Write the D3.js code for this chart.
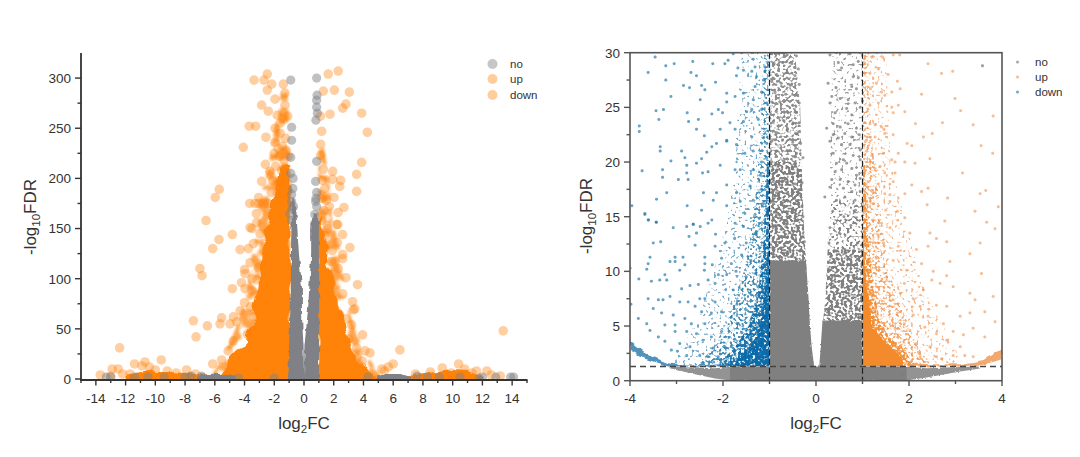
<!DOCTYPE html>
<html><head><meta charset="utf-8">
<script src="https://cdn.jsdelivr.net/npm/d3@7/dist/d3.min.js"></script>
<style>html,body{margin:0;background:#fff}svg{display:block}text{font-family:"Liberation Sans",Arial,sans-serif;fill:#333}</style>
</head><body><svg id="c" width="1080" height="457"></svg>
<script>
const legendLabels=["no","up","down"];
const xLabelA="log", xLabelB="2", xLabelC="FC", yLabelA="-log", yLabelB="10", yLabelC="FDR";
const leftXTicks=d3.range(-14,15,2), leftYTicks=[0,50,100,150,200,250,300];
const rightXTicks=[-4,-2,0,2,4], rightYTicks=[0,5,10,15,20,25,30];

// LEFT PANEL: mass outlines [y, xFrom, xTo]
const leftOrangeNeg=[[-3,-6.3,-.9],[0,-6.3,-.9],[5,-5.7,-.9],[12,-5.3,-.9],[20,-5,-.9],[26,-4.76,-.9],[32,-4.3,-.9],[39,-3.85,-.9],[50,-3.7,-.9],[59,-3.2,-.9],[75,-3.4,-.9],[92,-3,-.9],[125,-2.85,-.9],[158,-2.3,-.9],[175,-2.2,-.9],[190,-2,-.95],[205,-1.6,-1],[212,-1.3,-1]];
const leftOrangePos=[[-3,.9,5],[0,.9,5],[4,.9,4.7],[12,.9,4.3],[20,.9,3.5],[26,.9,3.3],[46,.9,2.87],[66,.9,2.42],[92,.9,2.08],[115,.9,1.55],[132,.9,1.6],[150,.9,1.2],[160,.9,1.05]];
const leftHaloNeg=[[0,-6.4,-.9],[20,-5.5,-.9],[50,-4.6,-.9],[75,-4.1,-.9],[100,-3.7,-.9],[125,-3.5,-.9],[150,-3.1,-.9],[175,-3.1,-.9],[200,-2.6,-.9],[230,-2.2,-1],[260,-1.9,-1],[290,-1.5,-1.15]];
const leftHaloPos=[[0,.9,5.3],[20,.9,4.4],[46,.9,3.5],[66,.9,3.1],[92,.9,2.8],[115,.9,2.4],[132,.9,2.4],[160,.9,1.9],[200,.95,1.7],[230,1,1.35]];
const leftGrayNeg=[[-3,-1.05,0],[0,-1.05,0],[34,-1,-.03],[50,-.95,-.1],[70,-.92,-.14],[92,-.88,-.14],[125,-.88,-.34],[150,-.85,-.45],[165,-.82,-.5],[180,-.8,-.58]];
const leftGrayPos=[[-3,0,1],[0,0,1],[34,.03,1.02],[50,.15,1.02],[70,.27,1.02],[92,.36,1.02],[125,.48,1],[150,.48,1],[165,.58,.95]];
// wings along the baseline [x, y0, y1]
const leftWingNeg=[[-12,-3,3],[-11,-3,7],[-10.5,-3,9],[-10,-3,7],[-9,-3,7],[-8,-3,6],[-7,-3,5],[-6,-3,3]];
const leftWingPos=[[7,-3,4],[8,-3,6],[9,-3,7],[10,-3,9],[11,-3,8],[11.5,-3,5],[12,-3,2]];
const leftBaseGrayNeg=[[-7.2,-3,2],[-6.5,-3,5],[-5.5,-3,5],[-4.6,-3,2]];
const leftBaseGrayPos=[[4.9,-3,2],[5.5,-3,5],[6.5,-3,5],[7.2,-3,2]];

const leftOrangePts=[[-3.36,298],[-2.47,304],[-2.69,298],[-2.17,294],[-2.47,288],[-1.39,294],[-1.28,285],[-1.95,279],[-2.85,273],[-2.4,267],[-1.28,273],[-1.8,263],[-1.45,260],[-1.6,255],[-1.1,262],[-3.68,252],[-3.25,252],[-2.56,241],[-4.08,231],[-1.95,250],[-1.6,245],[-1.25,240],[-1.95,236],[-1.75,230],[-1.45,232],[-1.2,228],[-2,225],[-1.65,222],[-1.35,218],[-2.3,207],[-2.6,214],[-1.9,212],[-1.5,208],[-1.2,205],[-1.05,222],[-2.85,197],[-2.1,198],[-1.7,197],[-1.4,195],[-1.1,194],[-3.05,181],[-2.2,186],[-1.8,185],[-1.3,185],[-3.65,175],[-3.3,175],[-3.05,175],[-2.7,175],[-2.45,175],[-3.2,165],[-3.5,150],[-5.7,189],[-5.97,181],[-6.59,158],
[2.3,307],[1.63,304],[1.3,287],[2.04,288],[3.05,286],[2.82,274],[2.6,270],[3.88,265],[4.26,246],[1.75,264],[1.1,262],[1.19,247],[1.12,234],[1.12,223],[3.88,216],[3.54,204],[3.54,187],[1.93,207],[2.47,198],[2.4,192],[1.93,199],[1.3,209],[1.25,198],[1.4,190],[1.2,180],[1.5,178],[2.02,181],[1.7,172],[2.69,171],[2.29,166],[1.35,168],[1.2,158],[2.2,154],[1.6,150],[1.4,143],
[-4.82,144],[-5.72,139],[-6.14,130],[-7,110],[-6.86,103],[-4.3,129],[-3.74,130],[-4,109],[-3.97,105],[-4.82,90],[-3.97,90],[-3.5,88],[-4,76],[-4.3,68],[-4.75,62],[-4.53,57],[-5.54,61],[-5.65,55],[-6.5,53],[-7.44,58],[-7.26,42],[-4.98,55],[-3.8,45],[-4.75,38],[-5.1,28],[-5.54,19],[-6.14,15],[-3.63,151],[-3.18,156],[-2.96,145],[-3.63,116],[-3.07,111],[-3.18,99],[-3.07,80],[-3.41,62],[-4.2,96],[-3.4,135],[-3.5,100],[-3.6,72],
[2.27,154],[2.6,144],[2.24,136],[3.09,131],[2.6,124],[2.6,120],[1.85,117],[2.82,101],[3.6,94],[3.27,77],[3.32,69],[3.42,70],[2.4,64],[3.2,54],[3.94,44],[3.54,31],[4.1,28],[4.44,26],[5.23,10],[6,15],[6.45,29],[5.67,12],[5.4,8],[1.57,153],[1.9,128],[2.3,110],[2.6,85],[2.85,60],[3,40],[3.6,22],[3.9,18],
[-12.4,31],[-13.7,4],[-12.9,10],[-12.5,10],[-11.4,15],[-10.7,17],[-10.4,12],[-9.6,19],[-10.9,13],[-11.7,5],[-10,9],[-9.2,8],[-8.6,6],[-7.9,9],[-7.3,5],[-12.2,5],[-13,3],[13.4,48],[10.4,15],[9.3,11],[10.8,10],[11.6,8],[12.3,8],[11.3,6],[8.5,7],[9.9,6],[13.2,3],[12.6,4],[7.5,5]];
const leftGrayPts=[[-.89,298],[-.83,251],[-.83,238],[-.89,221],[-.89,205],[-.73,200],[-.83,184],[-.83,177],[-.7,172],[-.95,165],[-.83,158],[-.75,190],[-.8,170],[.85,300],[.85,278],[.85,271],[.8,258],[.85,217],[.78,197],[.85,186],[.78,177],[.85,172],[.72,164],[.72,155],[.9,265],[.88,283],[.8,180],
[-13.3,2],[-13,2],[-11.4,2],[-10.5,2],[-9.4,2],[-8,2],[-7.6,3],[-6.9,3],[13.9,2],[14.1,2],[12.9,2],[12,2],[11.8,1],[10.5,2],[9.1,2],[8.3,2],[7.6,3],[4.3,2],[-2,1],[-4.4,1]];

// RIGHT PANEL: density zones [y, xFrom, xTo]
const grayNegDense=[[0,-.01,-1],[.4,-.02,-1],[1.3,-.04,-1],[3,-.09,-1],[5,-.13,-1],[7.5,-.16,-1],[10,-.2,-1],[11,-.22,-1]];
const grayNegMid=[[10,-.2,-1],[15,-.27,-1],[20,-.31,-1]];
const grayNegTop=[[20,-.31,-1],[25,-.34,-1],[30,-.45,-1]];
const grayPosDense=[[0,.01,1],[.4,.03,1],[1.3,.07,1],[3,.1,1],[4.3,.12,1],[5.5,.14,1]];
const grayPosMid=[[5.4,.15,1],[7.4,.2,1],[12,.25,1]];
const grayPosHigh=[[12,.25,1],[16.5,.33,1]];
const grayPosTop=[[16.5,.33,1],[20,.3,1],[25,.33,1],[30,.35,1]];
const blueT0=[[1.3,-3.1,-1],[3,-2.9,-1],[6,-2.5,-1],[10,-2.2,-1],[15,-1.9,-1],[20,-1.75,-1],[30,-1.6,-1]];
const blueT1=[[1.3,-2.6,-1],[3,-2.2,-1],[6,-1.85,-1],[10,-1.55,-1],[15,-1.35,-1],[22,-1.2,-1],[30,-1.12,-1]];
const blueT2=[[1.3,-2.1,-1],[2,-2,-1],[3,-1.75,-1],[5,-1.45,-1],[8,-1.25,-1],[13,-1.12,-1],[20,-1.05,-1]];
const blueT3=[[1.3,-1.75,-1],[2,-1.7,-1],[3,-1.45,-1],[4,-1.3,-1],[6,-1.15,-1],[10,-1.07,-1],[13,-1.02,-1]];
const orangeT0=[[1.3,3.1,1],[3,3,1],[6,2.6,1],[10,2.2,1],[15,1.9,1],[20,1.6,1],[30,1.5,1]];
const orangeT1=[[1.3,2.5,1],[3,2.2,1],[6,1.9,1],[10,1.55,1],[15,1.4,1],[22,1.2,1],[30,1.12,1]];
const orangeT2=[[1.3,2.1,1],[3,1.9,1],[4,1.55,1],[6,1.35,1],[8,1.25,1],[13,1.12,1],[20,1.05,1]];
const orangeT3=[[1.3,1.9,1],[2,1.85,1],[3,1.65,1],[3.7,1.45,1],[5,1.2,1],[9,1.08,1],[13,1.02,1]];
// bands [x, y0, y1]
const grayBottom=[[-1.85,0,1.3],[1.95,0,1.3]];
const grayArcNeg=[[-3.15,1.15,1.3],[-2.68,.65,1.2],[-2.17,.2,1.15],[-1.8,0,1.3]];
const grayArcPos=[[1.9,0,1.3],[2.38,.3,1.15],[3.1,.85,1.25],[3.5,1.1,1.3]];
const blueArc=[[-4,2.8,3.6],[-3.68,2,2.5],[-3.18,1.3,1.6],[-2.8,1.3,1.4],[-2.2,1.3,1.45],[-1.9,1.3,1.6]];
const orangeArc=[[2,1.3,1.55],[2.6,1.3,1.5],[3.1,1.3,1.5],[3.6,1.45,1.9],[3.95,1.9,2.8],[4,2,2.85]];
const fcCut=[-1,1], fdrCut=[1.3];

const bluePts=[[-3.46,29.6],[-3.61,28.2],[-3.23,28.8],[-3.05,29],[-3.23,27.5],[-3.12,26],[-3.44,24.7],[-3.28,24.8],[-3.38,23.9],[-3.8,23.3],[-3.8,22.8],[-3.35,21.4],[-3.35,21],[-3.12,20.1],[-3.74,19.2],[-3.3,19.3],[-3.3,18.6],[-3.21,17.2],[-3.43,16.6],[-3.96,16],[-3.68,15.3],[-3.6,14.7],[-3.44,14.5],[-3.07,14],
[-2.65,29.2],[-2.22,29],[-2.69,28.2],[-2.57,27.9],[-2.16,27.3],[-2.85,27],[-2.72,26.8],[-2.46,27],[-2.39,26.6],[-2.49,25.7],[-2.77,24.5],[-2.24,24.4],[-2.1,24.8],[-2.01,24.5],[-2.74,23.7],[-2.53,23.9],[-2.57,23],[-2.06,23],[-2.4,22.4],[-2.14,21.7],[-1.92,21.9],[-2.24,21.4],[-2.89,21],[-2.82,20.4],[-2.78,19.7],[-2.57,19.9],[-2.35,20.9],[-2.46,20.3],[-2.06,19.7],[-2.96,18.4],[-2.75,18.4],[-2.78,19],[-2.44,19],[-2.32,19.1],[-2.42,17.2],[-2.14,17.2],[-2.21,16.5],[-2.77,16],[-2.46,15.6],[-2.24,14.7],[-2.32,14.4],[-2.64,14.3],[-2.78,14.1],[-2.49,14.1],
[-1.96,29],[-1.78,29.9],[-1.6,30],[-1.89,29.3],[-1.68,28.6],[-1.56,28.4],[-1.71,27.9],[-1.92,26.3],[-1.92,25.5],[-1.74,26],[-1.56,26.3],[-1.35,29.4],[-1.31,28.7],[-1.38,28.3],[-1.28,27.8],[-1.1,28.7],[-1.1,28.3],[-1.13,27.5],[-1.31,26.9],[-1.17,26.4],[-1.35,25.7],[-1.49,24.6],[-1.38,24.8],[-1.17,24.8],[-1.24,23.9],[-1.06,25.4],[-1.85,23.6],[-1.74,23],[-1.56,23.7],[-1.38,22.3],[-1.13,22.2],[-1.06,21.7],[-1.92,22],[-1.71,21.6],[-1.53,20.8],[-1.35,21],[-1.06,20.4],[-1.17,20],[-1.74,19.3],[-1.63,19.3],[-1.35,19.3],[-1.2,18.8],[-1.03,19.3],[-1.92,17.9],[-1.71,17.2],[-1.42,17.8],[-1.17,17.5],[-1.06,17.8],[-1.63,16.4],[-1.35,16.5],[-1.13,16.2],[-1.92,16],[-1.53,15.3],[-1.31,15.2],[-1.1,14.7],[-1.74,14.4],[-1.56,14.1],
[-3.68,15.2],[-3.61,14.7],[-3.43,14.5],[-2.64,14.3],[-2.73,13.2],[-2.57,13.5],[-2.16,13.4],[-3.5,12.6],[-3.34,12.7],[-4,10.3],[-3.64,10.2],[-3.57,11.3],[-3.61,10.7],[-3.14,10.9],[-3.03,11.3],[-3.03,10.9],[-2.86,11.3],[-2.82,10.6],[-2.93,10.1],[-3.81,9.3],[-3.54,9.1],[-3.36,9.2],[-3.21,9.2],[-3.25,9.7],[-2.89,8.4],[-2.71,8.7],[-2.53,8.8],[-2.39,10.7],[-2.39,11.3],[-2.4,10.1],[-2.17,12.3],[-2.6,12.4],[-1.96,12.6],[-2.23,10.6],[-2.03,11.2],[-1.82,10.7],[-2.1,9.7],[-1.92,9.7],[-2.32,9.2],[-2.17,8.9],[-1.78,8.3],[-3.61,7.5],[-3.39,7.4],[-3.29,7.4],[-3.14,7.7],[-3.98,7],[-3.5,6.6],[-2.93,7.2],[-2.75,7.2],[-2.5,7.5],[-2.39,7.5],[-2.17,7.2],[-3.32,6.2],[-3.07,6],[-2.82,5.7],[-2.6,6.8],[-2.46,6.3],[-2.25,6.2],[-2.03,6.3],[-3.82,5.7],[-3.64,5.2],[-3.25,5.1],[-3.03,5.1],[-2.68,5.2],[-2.39,5.2],[-3.57,4.6],[-3.39,4],[-3.25,3.6],[-3.03,4.5],[-2.78,4.5],[-2.57,4.3],[-2.93,3.4],[-2.71,3.1],[-2.43,3.7],[-2.25,4],[-2.03,4.5],[-1.82,5.8],[-1.67,5.2],[-1.96,3.1],[-2.21,3],[-3.11,2.8],[-2.98,2.7],[-2.78,2.3],[-2.5,2.3],[-2.32,2.2],[-2.1,2.2],[-1.82,3.1],
[-1.75,13],[-1.5,12.6],[-1.3,13.5],[-1.6,11.5],[-1.4,11],[-1.22,12.2],[-1.72,10],[-1.5,9.5],[-1.3,9.8],[-1.65,8.5],[-1.42,8],[-1.25,8.6],[-1.7,7],[-1.5,6.5],[-1.3,7],[-1.6,4.4],[-1.75,3.8],[-1.5,4.6],[-2.05,1.9],[-2.2,1.7],[-2.45,1.6]];

const orangePts=[[2.41,29],[2.7,28.1],[2.94,28.3],[2.27,26.2],[2.99,25.8],[3.11,24.7],[3.81,24.2],[2.72,23.6],[3.38,23.4],[2.14,23.5],[2.5,22.6],[2.31,22.3],[1.96,21.7],[2.06,21.5],[3.55,21.5],[3.8,20.8],[2.45,20.3],[2.13,19.9],[1.91,20],[3.15,19],[2.41,17.6],[2.27,17.3],[2.06,17.9],[1.91,17.1],[3.65,17.4],[3.53,17.1],[2.83,16.7],[3.92,15.9],[2.39,16.1],
[1.05,29],[1.2,29.6],[1.43,29.6],[1.66,29.8],[1.8,29.8],[1.16,28.1],[1.34,28.5],[1.55,28],[1.75,27.4],[1.3,27.2],[1.17,26.7],[1.41,26.4],[1.63,26.4],[1.81,26.7],[1.48,26.1],[1.16,25.2],[1.34,25.4],[1.63,25],[1.77,25.2],[1.66,24.5],[1.91,24.6],[1.16,23.5],[1.27,23.4],[1.41,23.2],[1.09,22],[1.27,22.3],[1.48,22.6],[1.46,23],[1.66,22.5],[1.09,21],[1.2,20.6],[1.45,20.8],[1.63,20.2],[1.7,20],[1.77,20.8],[1.09,19.6],[1.27,19.4],[1.38,19.6],[1.48,19],[1.7,19],[1.12,18.2],[1.34,18],[1.66,18.2],[1.2,17.4],[1.48,17.1],[1.59,17],[1.09,16.4],[1.23,16.2],[1.59,16.4],
[3.42,15.5],[2.77,14.6],[3.67,14.5],[3.85,13.9],[2.45,13.5],[2.59,13],[2.81,12.7],[3.53,12.6],[3.31,11.6],[3.56,9.8],[2.52,10],[2.88,10.9],[2.41,12.3],[2.16,12],[2.02,13.5],[1.91,14.9],[1.95,10.1],[2.27,10.7],[2.49,9.2],[2.67,8.9],[2.81,9.6],[2.95,8.6],[3.31,8],[3.42,7.4],[3.81,7.7],[3.63,6.3],[3.85,5.4],[3.63,4],[3.38,4.8],[3.1,5.9],[3.31,6.2],[2.81,6.8],[2.59,6.9],[2.31,8.3],[2.09,7.5],[2.24,6.8],[2.09,6],[2.41,5.9],[2.74,5.2],[2.95,4.5],[3.17,4.2],[2.59,4.3],[2.34,4.9],[2.02,4.6],[2.16,3.4],[2.45,3.1],[2.81,3.7],[3.1,3.1],[3.38,2.2],[2.95,2.3],[2.59,2.2],[2.24,2.2],[1.88,2.2],[1.66,7.4],[1.81,8],[1.52,9.5],[1.66,11],[1.45,12.6],[1.59,14],[1.77,12.3],[1.3,11.2],[1.23,14.7],[1.34,13.2],[1.12,12.3],[1.41,14.4],[1.75,15.5],[1.5,15.6],[1.9,8.9],[1.75,6.2],[1.9,5.2],[1.7,4.8],[2.2,2.6],[2.7,2],[3.2,2.3]];

const grayPts=[[.3,29.8],[.44,30],[.73,29.9],[.95,30],[.48,29.1],[.55,28.6],[.8,28.9],[.91,29.2],[.8,27.8],[.91,27.7],[.26,27.2],[.43,26.8],[.77,26.9],[.87,26.7],[.34,26],[.52,25.8],[.69,25.7],[.84,25.4],[.95,25],[.3,25.4],[.66,24.9],[.77,24.3],[.41,24.5],[.37,23.5],[.23,23.1],[.52,23.2],[.69,23.5],[.87,23.1],[.37,22.5],[.3,21.9],[.48,22.2],[.62,22.6],[.77,22.3],[.93,22.5],[.55,21.6],[.73,21.6],[.95,21.1],[.37,20.8],[.59,20.2],[.8,20.6],[.44,19.9],[.66,19.9],[.95,20.2],[.41,19.1],[.55,19.3],[.77,19.4],[.87,18.8],[.34,18.4],[.52,18.4],[.69,18.2],[.84,17.9],[.95,18.5],[.3,17.7],[.59,17.6],[.77,17.3],[.19,16.8],[.44,16.5],[.62,16.8],[.84,16.5],[.95,17.3],[.36,15.5],[.6,15],[.85,15.6],[.3,14],[.5,13.5],[.75,14.2],[.28,12.6],[.62,12],[.9,12.6],[3.58,28.8],[1.85,.55],
[-.95,29.9],[-.8,29.9],[-.62,29.8],[-.42,29.7],[-.9,29],[-.72,29.1],[-.52,29],[-.38,28.5],[-.85,28],[-.62,28.2],[-.45,27.9],[-.95,27.4],[-.75,27.2],[-.55,27],[-.36,27.1],[-.88,26.4],[-.65,26.2],[-.42,26.2],[-.95,25.5],[-.78,25.5],[-.5,25.2],[-.36,25.4],[-.85,24.6],[-.6,24.5],[-.42,24.5],[-.92,23.7],[-.7,23.8],[-.5,23.5],[-.36,23.6],[-.85,22.7],[-.62,22.9],[-.42,22.6],[-.95,21.9],[-.72,22],[-.5,21.8],[-.33,21.7],[-.85,21],[-.6,21],[-.42,20.8],[-.28,20.4],[-.95,20],[-.7,20.1],[-.45,19.9],[-.85,19.1],[-.55,19],[-.33,19.2],[-.92,18.2],[-.72,18.2],[-.45,18],[-.3,18.1],[-.85,17.2],[-.6,17.1],[-.38,17],[-.92,16.2],[-.7,16],[-.45,16.2],[-.3,16],[-.85,15.2],[-.55,15],[-.28,15],[-.92,14],[-.65,14.1],[-.38,14],[-.8,13],[-.5,13],[-.25,12.7],[-.9,12],[-.6,11.8],[-.32,12]];

const W=1080,H=457,svg=d3.select("#c");
svg.append("rect").attr("width",W).attr("height",H).attr("fill","#fff");
const defs=svg.append("defs");
const cOrange="#ff8209",cGrayL="#7f8186";

function fbase(id){
  return defs.append("filter").attr("id",id).attr("filterUnits","userSpaceOnUse")
    .attr("x",0).attr("y",0).attr("width",W).attr("height",H).attr("color-interpolation-filters","sRGB");
}
// grain texture standing in for overplotted points
function grain(id,freq,t,seed,blur){
  const f=fbase(id),k=9;
  f.append("feTurbulence").attr("type","fractalNoise").attr("baseFrequency",freq).attr("numOctaves",1).attr("seed",seed).attr("result","n");
  f.append("feColorMatrix").attr("in","n").attr("type","matrix")
    .attr("values",`0 0 0 0 0  0 0 0 0 0  0 0 0 0 0  ${k} 0 0 0 ${-k*t}`).attr("result","m");
  f.append("feComposite").attr("in","SourceGraphic").attr("in2","m").attr("operator","in").attr("result","c");
  f.append("feGaussianBlur").attr("in","c").attr("stdDeviation",blur);
}
// lumpy outline of a solid mass
function lumps(id,freq,scale,seed){
  const f=fbase(id);
  f.append("feTurbulence").attr("type","fractalNoise").attr("baseFrequency",freq).attr("numOctaves",1).attr("seed",seed).attr("result","n");
  f.append("feDisplacementMap").attr("in","SourceGraphic").attr("in2","n").attr("scale",scale).attr("xChannelSelector","R").attr("yChannelSelector","G").attr("result","d");
  f.append("feGaussianBlur").attr("in","d").attr("stdDeviation",.5);
}
const gf=.36;
grain("g18",gf,.59,3,.45);grain("g30",gf,.55,5,.45);grain("g40",gf,.52,7,.45);grain("g55",gf,.48,11,.45);grain("g70",gf,.43,13,.45);grain("g85",gf,.38,19,.45);
grain("blob",.1,.44,17,.8);
lumps("lumpBig",.08,14,2);lumps("lumpSmall",.15,5,4);lumps("lumpFine",.4,3,6);

const clip=(id,x,y,w,h)=>defs.append("clipPath").attr("id",id).append("rect").attr("x",x).attr("y",y).attr("width",w).attr("height",h);

// ---------- left panel scales
const x1=d3.scaleLinear().domain([-15,15]).range([81,527]);
const y1=d3.scaleLinear().domain([0,325]).range([379,53]);
clip("cpL",81,40,446,340);
const g1=svg.append("g").attr("clip-path","url(#cpL)");
const rowArea=(xs,ys)=>d3.area().y(d=>ys(d[0])).x0(d=>xs(d[1])).x1(d=>xs(d[2]));
const colArea=(xs,ys)=>d3.area().x(d=>xs(d[0])).y0(d=>ys(d[1])).y1(d=>ys(d[2]));
const rowL=rowArea(x1,y1),colL=colArea(x1,y1);

[leftHaloNeg,leftHaloPos].forEach(r=>g1.append("g").attr("opacity",.72).append("path").attr("d",rowL(r)).attr("fill",cOrange).attr("filter","url(#blob)"));
[leftWingNeg,leftWingPos].forEach(r=>g1.append("path").attr("d",colL(r)).attr("fill",cOrange).attr("filter","url(#lumpSmall)"));
[leftOrangeNeg,leftOrangePos].forEach(r=>g1.append("path").attr("d",rowL(r)).attr("fill",cOrange).attr("filter","url(#lumpBig)"));
g1.append("g").selectAll("circle").data(leftOrangePts).join("circle")
  .attr("cx",d=>x1(d[0])).attr("cy",d=>y1(d[1])).attr("r",4.8).attr("fill",cOrange).attr("opacity",.38);
[leftBaseGrayNeg,leftBaseGrayPos].forEach(r=>g1.append("path").attr("d",colL(r)).attr("fill",cGrayL).attr("filter","url(#lumpSmall)"));
[leftGrayNeg,leftGrayPos].forEach(r=>g1.append("path").attr("d",rowL(r)).attr("fill",cGrayL).attr("filter","url(#lumpSmall)"));
g1.append("g").selectAll("circle").data(leftGrayPts).join("circle")
  .attr("cx",d=>x1(d[0])).attr("cy",d=>y1(d[1])).attr("r",4.6).attr("fill",cGrayL).attr("opacity",.5);

function mainTicks(g,orient,vals,scale,pos,len){
  g.selectAll(null).data(vals).join("line").each(function(v){
    const s=d3.select(this);
    if(orient==="b") s.attr("x1",scale(v)).attr("x2",scale(v)).attr("y1",pos).attr("y2",pos+len);
    else s.attr("y1",scale(v)).attr("y2",scale(v)).attr("x1",pos).attr("x2",pos-len);
  }).attr("stroke",g.attr("data-c")).attr("stroke-width",1.4);
}
function labels(g,orient,vals,scale,pos,fs){
  g.selectAll(null).data(vals).join("text").text(d=>d).attr("font-size",fs)
   .attr("text-anchor",orient==="b"?"middle":"end")
   .attr("x",d=>orient==="b"?scale(d):pos).attr("y",d=>orient==="b"?pos:scale(d)+fs*.36);
}
// left axes
const a1=svg.append("g").attr("data-c","#333");
a1.append("line").attr("x1",81).attr("x2",81).attr("y1",y1(325)).attr("y2",381).attr("stroke","#333").attr("stroke-width",1.8);
a1.append("line").attr("x1",80).attr("x2",x1(15)+.5).attr("y1",380).attr("y2",380).attr("stroke","#333").attr("stroke-width",1.8);
mainTicks(a1,"l",leftYTicks,y1,81,6);
mainTicks(a1,"l",d3.range(25,325,50),y1,81,3.5);
mainTicks(a1,"b",leftXTicks,x1,380,5.5);
mainTicks(a1,"b",d3.range(-15,16,2),x1,380,3);
labels(a1,"l",leftYTicks,y1,71,13.5);
labels(a1,"b",leftXTicks,x1,403,13.5);

// ---------- right panel scales
const x2=d3.scaleLinear().domain([-4,4]).range([630,1002]);
const y2=d3.scaleLinear().domain([0,30]).range([380.7,52.7]);
clip("cpR",630,52.7,372,328);
clip("cpBlue",630,52.7,x2(-1)-630,y2(1.3)-52.7);
clip("cpOrange",x2(1),52.7,1002-x2(1),y2(1.3)-52.7);
clip("cpGray",x2(-1),52.7,x2(1)-x2(-1),328);
const g2=svg.append("g").attr("clip-path","url(#cpR)");
const rowR=rowArea(x2,y2),colR=colArea(x2,y2);
const cGray="#808080",cBlue="#0b6aa8",cOr="#f38b2c";
const put=(host,r,fn,c,flt,o)=>host.append("g").attr("opacity",o==null?1:o).append("path").attr("d",fn(r)).attr("fill",c).attr("filter",flt?`url(#${flt})`:null);
const gBlue=g2.append("g").attr("clip-path","url(#cpBlue)");
const gOr=g2.append("g").attr("clip-path","url(#cpOrange)");
const gGray=g2.append("g").attr("clip-path","url(#cpGray)");
put(gBlue,blueT0,rowR,"#3f87b5","g18",.75);
put(gBlue,blueT1,rowR,"#2a7cab","g40",.85);
put(gBlue,blueT2,rowR,cBlue,"g70",.9);
put(gBlue,blueT3,rowR,cBlue,"g85",1);
put(gOr,orangeT0,rowR,"#ef9a5c","g18",.7);
put(gOr,orangeT1,rowR,"#ef9350","g40",.8);
put(gOr,orangeT2,rowR,cOr,"g70",.9);
put(gOr,orangeT3,rowR,cOr,"lumpFine",1);
put(g2,blueArc,colR,"#3f87b5","lumpSmall",.9);
put(g2,orangeArc,colR,"#f0a060","lumpSmall",.9);
put(g2,grayArcNeg,colR,cGray,"lumpFine",.85);
put(g2,grayArcPos,colR,cGray,"lumpFine",.85);
put(g2,grayBottom,colR,cGray,"lumpFine",1);
put(gGray,grayNegTop,rowR,"#8a8a8a","g55",.95);
put(gGray,grayNegMid,rowR,cGray,"g70",1);
put(gGray,grayNegDense,rowR,cGray,"lumpFine",1);
put(gGray,grayPosTop,rowR,"#8a8a8a","g18",.85);
put(gGray,grayPosHigh,rowR,cGray,"g40",.95);
put(gGray,grayPosMid,rowR,cGray,"g70",1);
put(gGray,grayPosDense,rowR,cGray,"lumpFine",1);
const dots=(data,c,o)=>g2.append("g").selectAll("rect").data(data).join("rect")
  .attr("x",d=>x2(d[0])-1.5).attr("y",d=>y2(d[1])-1.5).attr("width",3).attr("height",3).attr("rx",1.4)
  .attr("fill",c).attr("opacity",o);
dots(bluePts,"#2a7cab",.7);
dots(orangePts,"#ef9350",.6);
dots(grayPts,"#7c7c7c",.75);

// right cut lines
const a2=svg.append("g").attr("data-c","#555");
fcCut.forEach(v=>a2.append("line").attr("x1",x2(v)).attr("x2",x2(v)).attr("y1",y2(30)).attr("y2",y2(0))
  .attr("stroke","#222").attr("stroke-width",1.2).attr("stroke-dasharray","6 3"));
fdrCut.forEach(v=>a2.append("line").attr("x1",x2(-4)).attr("x2",x2(4)).attr("y1",y2(v)).attr("y2",y2(v))
  .attr("stroke","#444").attr("stroke-width",1.3).attr("stroke-dasharray","6 4"));
a2.append("rect").attr("x",630).attr("y",52.7).attr("width",372).attr("height",328).attr("fill","none").attr("stroke","#555").attr("stroke-width",1.6);
mainTicks(a2,"l",rightYTicks,y2,630,6);
mainTicks(a2,"l",[2.5,7.5,12.5,17.5,22.5,27.5],y2,630,3.5);
mainTicks(a2,"b",rightXTicks,x2,381,5);
mainTicks(a2,"b",[-3,-1,1,3],x2,381,3);
labels(a2,"l",rightYTicks,y2,620,13.5);
labels(a2,"b",rightXTicks,x2,403,13.5);

// titles
function title(x,y,rot,a,b,c){
  const t=svg.append("text").attr("font-size",17).attr("text-anchor","middle")
    .attr("transform",`translate(${x},${y})`+(rot?" rotate(-90)":""));
  t.append("tspan").text(a);
  t.append("tspan").text(b).attr("font-size",11.5).attr("dy",4);
  t.append("tspan").text(c).attr("dy",-4);
}
title(304,429,false,xLabelA,xLabelB,xLabelC);
title(816,429,false,xLabelA,xLabelB,xLabelC);
title(36,217,true,yLabelA,yLabelB,yLabelC);
title(592,216,true,yLabelA,yLabelB,yLabelC);

// legends
const leg1=[cGrayL,cOrange,cOrange], leg1y=[64,79,95];
svg.append("g").selectAll("circle").data(legendLabels).join("circle")
  .attr("cx",492.5).attr("cy",(d,i)=>leg1y[i]).attr("r",5).attr("fill",(d,i)=>leg1[i]).attr("opacity",(d,i)=>i?.4:.45);
svg.append("g").selectAll("text").data(legendLabels).join("text").text(d=>d)
  .attr("x",510).attr("y",(d,i)=>leg1y[i]+4).attr("font-size",11.5);
const leg2=["#999","#eab288","#5a93b5"], leg2y=[62,77,92];
svg.append("g").selectAll("circle").data(legendLabels).join("circle")
  .attr("cx",1017.5).attr("cy",(d,i)=>leg2y[i]).attr("r",1.6).attr("fill",(d,i)=>leg2[i]).attr("opacity",.8);
svg.append("g").selectAll("text").data(legendLabels).join("text").text(d=>d)
  .attr("x",1035).attr("y",(d,i)=>leg2y[i]+4).attr("font-size",11.5);
</script></body></html>
